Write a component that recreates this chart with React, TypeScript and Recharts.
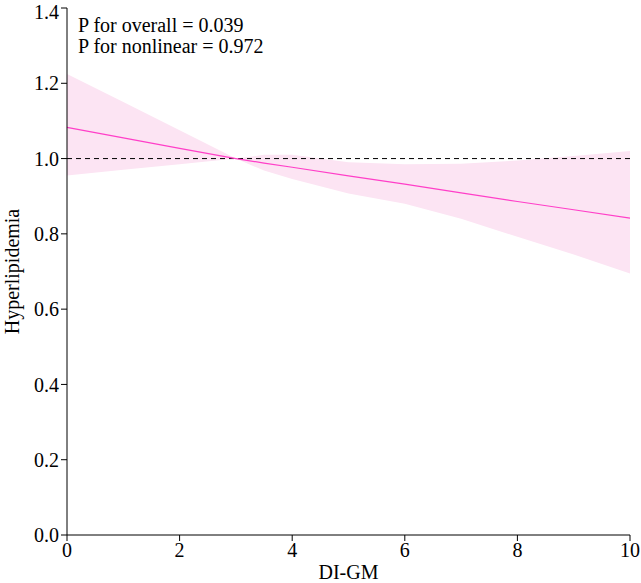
import React from 'react';
import {
  ComposedChart, Area, Line, XAxis, YAxis, ReferenceLine,
} from 'recharts';

// Restricted cubic spline estimate with 95% CI
const scoreValues = [0, 1, 2, 3, 3.5, 4, 5, 6, 7, 8, 9, 10];
const oddsRatio = [1.083, 1.055, 1.027, 1.0, 0.988, 0.977, 0.954, 0.932, 0.909, 0.886, 0.864, 0.842];
const lowerCI = [0.955, 0.97, 0.985, 1.0, 0.968, 0.946, 0.907, 0.88, 0.84, 0.792, 0.745, 0.695];
const upperCI = [1.225, 1.15, 1.075, 1.0, 1.01, 1.01, 0.99, 0.985, 0.986, 0.995, 1.007, 1.02];

const xTicks = [0, 2, 4, 6, 8, 10];
const yTicks = [0, 0.2, 0.4, 0.6, 0.8, 1.0, 1.2, 1.4];

const pOverall = '0.039';
const pNonlinear = '0.972';

const data = scoreValues.map((x, i) => ({
  x,
  or: oddsRatio[i],
  band: [lowerCI[i], upperCI[i]],
}));

const FONT = '"Liberation Serif", "Times New Roman", serif';
const tickStyle = { fill: '#000', fontSize: 20, fontFamily: FONT };

export default function App() {
  return (
    <div style={{ position: 'absolute', left: 0, top: 0, width: 641, height: 583, background: '#fff' }}>
      <ComposedChart
        width={641}
        height={583}
        data={data}
        margin={{ top: 8, right: 11, bottom: 0, left: 0 }}
      >
        <XAxis
          dataKey="x"
          type="number"
          domain={[0, 10]}
          ticks={xTicks}
          height={48}
          tick={tickStyle}
          tickSize={6}
          axisLine={{ stroke: '#000' }}
          tickLine={{ stroke: '#000' }}
          label={{
            value: 'DI-GM',
            position: 'insideBottom',
            offset: 4,
            style: { fill: '#000', fontSize: 20, fontFamily: FONT },
          }}
        />
        <YAxis
          type="number"
          domain={[0, 1.4]}
          ticks={yTicks}
          width={67}
          tick={tickStyle}
          tickSize={6}
          tickFormatter={(v: number) => v.toFixed(1)}
          axisLine={{ stroke: '#000' }}
          tickLine={{ stroke: '#000' }}
          label={{
            value: 'Hyperlipidemia',
            angle: -90,
            position: 'insideLeft',
            offset: 12,
            style: { textAnchor: 'middle', fill: '#000', fontSize: 20, fontFamily: FONT },
          }}
        />
        <Area
          dataKey="band"
          type="linear"
          stroke="none"
          fill="#fce4f3"
          fillOpacity={1}
          isAnimationActive={false}
        />
        <ReferenceLine y={1} stroke="#000" strokeDasharray="5 4" />
        <Line
          dataKey="or"
          type="linear"
          stroke="#ff3fc8"
          strokeWidth={1.2}
          dot={false}
          isAnimationActive={false}
        />
      </ComposedChart>
      <svg
        width={641}
        height={583}
        style={{ position: 'absolute', left: 0, top: 0, pointerEvents: 'none' }}
      >
        <text x={78} y={32} fontSize={20} fontFamily={FONT} fill="#000">
          P for overall = {pOverall}
        </text>
        <text x={78} y={53} fontSize={20} fontFamily={FONT} fill="#000">
          P for nonlinear = {pNonlinear}
        </text>
      </svg>
    </div>
  );
}
